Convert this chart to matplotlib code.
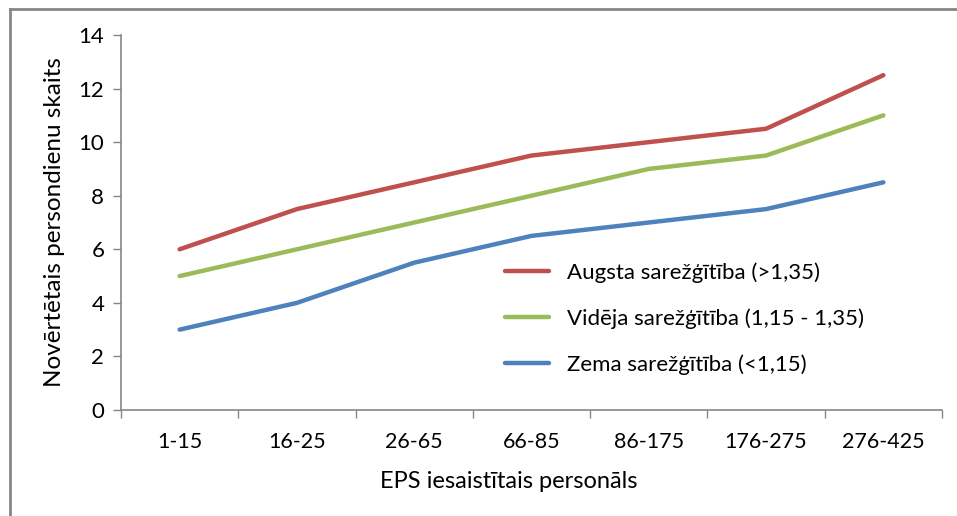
import matplotlib
matplotlib.use("Agg")
import matplotlib.pyplot as plt
from matplotlib.lines import Line2D
import numpy as np

categories = ["1-15", "16-25", "26-65", "66-85", "86-175", "176-275", "276-425"]
augsta = [6, 7.5, 8.5, 9.5, 10, 10.5, 12.5]
videja = [5, 6, 7, 8, 9, 9.5, 11]
zema = [3, 4, 5.5, 6.5, 7, 7.5, 8.5]
labels = ["Augsta sarežģītība (>1,35)", "Vidēja sarežģītība (1,15 - 1,35)", "Zema sarežģītība (<1,15)"]
colors = ["#C0504D", "#9BBB59", "#4F81BD"]

plt.rcParams['font.family'] = ['Lato', 'DejaVu Sans']

W, H = 957, 516
fig = plt.figure(figsize=(W / 100, H / 100), dpi=100)
ax = fig.add_axes([121 / W, 1 - 410 / H, (942 - 121) / W, (410 - 35) / H])

x = np.arange(len(categories))
for vals, lab, c in zip([augsta, videja, zema], labels, colors):
    ax.plot(x, vals, color=c, lw=3.2, label=lab, solid_capstyle='round')

ax.set_xlim(-0.5, len(categories) - 0.5)
ax.set_ylim(0, 14)
ax.set_yticks(np.arange(0, 15, 2))
ax.set_xticks(x)
ax.set_xticklabels(categories, fontsize=15.5, family=['Liberation Sans Narrow', 'Lato'])
ax.set_xticks(np.arange(-0.5, len(categories), 1), minor=True)
ax.tick_params(axis='x', which='major', length=0, pad=16)
ax.tick_params(axis='x', which='minor', length=6, color='#868686', width=1)
ax.tick_params(axis='y', length=6, color='#868686', width=1, labelsize=16, pad=6)

for s in ['top', 'right']:
    ax.spines[s].set_visible(False)
for s in ['left', 'bottom']:
    ax.spines[s].set_color('#868686')
    ax.spines[s].set_linewidth(1.2)

ax.set_ylabel("Novērtētais persondienu skaits", fontsize=17.5, labelpad=10)
ax.set_xlabel("EPS iesaistītais personāls", fontsize=17)
ax.xaxis.set_label_coords((509 - 121) / 821, (410 - 481) / 375)
ax.xaxis.label.set_va('center')

ax.legend(loc='upper left', bbox_to_anchor=(505 / W, 1 - 262 / H), bbox_transform=fig.transFigure,
          frameon=False, borderpad=0, borderaxespad=0,
          fontsize=16, handlelength=2.0, handletextpad=0.8, labelspacing=1.15)

# outer frame lines (top and left)
fig.add_artist(Line2D([10 / W, 1], [1 - 8.5 / H, 1 - 8.5 / H], color='#868686', lw=2.0, transform=fig.transFigure))
fig.add_artist(Line2D([10 / W, 10 / W], [0, 1 - 8.5 / H], color='#868686', lw=2.0, transform=fig.transFigure))

fig.savefig("out.png", dpi=100)
